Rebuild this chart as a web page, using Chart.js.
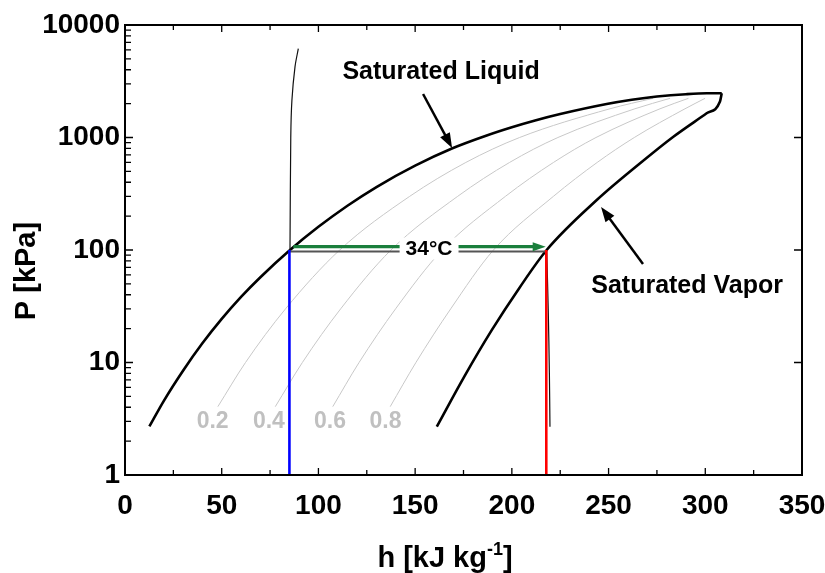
<!DOCTYPE html>
<html>
<head>
<meta charset="utf-8">
<script src="https://cdn.jsdelivr.net/npm/chart.js@4.4.0/dist/chart.umd.min.js"></script>
<style>
  html, body { margin: 0; padding: 0; background: #fff; }
  #wrap { width: 825px; height: 573px; }
</style>
</head>
<body>
<div id="wrap"><canvas id="phChart" width="825" height="573"></canvas></div>
<script>
// ---- DATA ----
const xTicks = [0, 50, 100, 150, 200, 250, 300, 350];
const yTicks = [1, 10, 100, 1000, 10000];

// saturated liquid / vapor dome, h [kJ/kg] vs P [kPa]
const liquidH = [12.6, 20, 30, 40, 50, 60, 70, 85.3, 100, 115, 130, 150, 169, 187, 200, 212, 225, 249, 262, 275, 290, 300.8, 308.5];
const liquidP = [2.7, 4.54, 8.45, 14.8, 24.4, 38.3, 57.3, 100, 160.7, 247.5, 363, 562, 798, 1042, 1233, 1416, 1615, 1982, 2163, 2312, 2427, 2472, 2472];
const vaporH  = [161.2, 175.4, 189.6, 203.8, 218, 243.9, 266.3, 283.5, 300.7, 307.6, 308.5];
const vaporP  = [2.69, 7.5, 19.4, 45.8, 100, 278, 590, 1016, 1641, 2086, 2472];

// constant quality lines
const qualityP = [4.05, 10, 30, 100, 300, 600, 1000, 1800, 2230];
const q02H = [48, 62.3, 83, 111, 147.2, 176.2, 204, 250.7, 273];
const q04H = [77.7, 91.7, 111.5, 137.5, 172, 198.8, 223.8, 263.6, 281.8];
const q06H = [107.4, 121, 139.9, 164, 196.7, 221.5, 243.5, 276.6, 291.3];
const q08H = [137.1, 150.4, 168.4, 190.5, 221.5, 244.1, 263.3, 289.5, 299.9];
const qualityLabels = ['0.2', '0.4', '0.6', '0.8'];
const qualityLabelH = [45.3, 74.4, 106, 134.7];
const qualityLabelP = 2.98;

// 34°C isotherm pieces
const liqIsoH = [85.3, 85.7, 86.3, 87.9, 89.6];
const liqIsoP = [100, 1000, 2154, 4266, 6170];
const vapIsoH = [218, 218.8, 219.4, 219.7];
const vapIsoP = [100, 30, 8, 2.69];
const isoLineH = [85.3, 218];
const isoLineP = [97, 97];

// marked states
const blueH = [85, 85];
const blueP = [1, 100];
const redH = [217.8, 217.8];
const redP = [1, 100];
const greenH = [87, 212];
const greenP = [107, 107];
const greenTipH = 217.5;

const FONT = '"Liberation Sans", Arial, Helvetica, sans-serif';

function series(hs, ps) {
  return hs.map((h, i) => ({ x: h, y: ps[i] }));
}

function lineSet(label, hs, ps, color, width, extra) {
  return Object.assign({
    label,
    data: series(hs, ps),
    borderColor: color,
    borderWidth: width,
    pointRadius: 0,
    fill: false,
    showLine: true,
    cubicInterpolationMode: 'monotone',
  }, extra || {});
}

// ---- annotations ----
const notes = {
  liquid: { text: 'Saturated Liquid', h: 163.4, p: 3822, from: [154.1, 2436], to: [169.1, 807] },
  vapor:  { text: 'Saturated Vapor',  h: 290.6, p: 47.9, from: [267.8, 75.1], to: [246.1, 241] },
  temp:   { text: '34°C', h: 157.2, p: 101 },
};

function arrowHead(ctx, x0, y0, x1, y1, len, half, color) {
  const a = Math.atan2(y1 - y0, x1 - x0);
  const c = Math.cos(a), s = Math.sin(a);
  ctx.fillStyle = color;
  ctx.beginPath();
  ctx.moveTo(x1, y1);
  ctx.lineTo(x1 - len * c + half * s, y1 - len * s - half * c);
  ctx.lineTo(x1 - len * c - half * s, y1 - len * s + half * c);
  ctx.closePath();
  ctx.fill();
}

const decorPlugin = {
  id: 'decor',
  afterDraw(chart) {
    const ctx = chart.ctx;
    const xs = chart.scales.x, ys = chart.scales.y;
    const { left, right, top, bottom } = chart.chartArea;
    const X = v => xs.getPixelForValue(v);
    const Y = v => ys.getPixelForValue(v);
    ctx.save();

    // green arrow head
    const gy = Y(greenP[0]);
    arrowHead(ctx, X(greenH[0]), gy, X(greenTipH), gy, 13, 4.5, '#1a7f3c');

    // label for the isotherm with white box
    ctx.font = 'bold 21px ' + FONT;
    const tw = ctx.measureText(notes.temp.text).width;
    const tx = X(notes.temp.h), ty = Y(notes.temp.p);
    ctx.fillStyle = '#fff';
    ctx.fillRect(tx - tw / 2 - 6, ty - 12, tw + 12, 22);
    ctx.fillStyle = '#000';
    ctx.textAlign = 'center';
    ctx.textBaseline = 'middle';
    ctx.fillText(notes.temp.text, tx, ty);

    // quality labels
    ctx.font = 'bold 23px ' + FONT;
    ctx.fillStyle = '#c0c0c0';
    qualityLabels.forEach((t, i) => ctx.fillText(t, X(qualityLabelH[i]), Y(qualityLabelP)));

    // saturated curve notes with arrows
    ctx.font = 'bold 25px ' + FONT;
    ctx.fillStyle = '#000';
    ctx.strokeStyle = '#000';
    ctx.lineWidth = 2.5;
    [notes.liquid, notes.vapor].forEach(n => {
      ctx.fillText(n.text, X(n.h), Y(n.p));
      const x0 = X(n.from[0]), y0 = Y(n.from[1]);
      const x1 = X(n.to[0]), y1 = Y(n.to[1]);
      const d = Math.hypot(x1 - x0, y1 - y0);
      ctx.beginPath();
      ctx.moveTo(x0, y0);
      ctx.lineTo(x1 - (x1 - x0) / d * 10, y1 - (y1 - y0) / d * 10);
      ctx.stroke();
      arrowHead(ctx, x0, y0, x1, y1, 15, 5.5, '#000');
    });

    // frame
    ctx.lineWidth = 2;
    ctx.strokeRect(left, top, right - left, bottom - top);

    // inward ticks
    ctx.lineWidth = 1.3;
    ctx.beginPath();
    for (let v = 0; v <= 350; v += 25) {
      const x = X(v), len = v % 50 === 0 ? 7 : 5;
      ctx.moveTo(x, bottom); ctx.lineTo(x, bottom - len);
      ctx.moveTo(x, top); ctx.lineTo(x, top + len);
    }
    for (let d = 1; d < 10000; d *= 10) {
      for (let m = 1; m < 10; m++) {
        const y = Y(d * m);
        ctx.moveTo(left, y); ctx.lineTo(left + (m === 1 ? 8 : 6), y);
        if (m === 1) { ctx.moveTo(right, y); ctx.lineTo(right - 8, y); }
      }
    }
    ctx.stroke();

    // axis titles
    ctx.fillStyle = '#000';
    ctx.font = 'bold 29px ' + FONT;
    ctx.save();
    ctx.translate(27, 271);
    ctx.rotate(-Math.PI / 2);
    ctx.textAlign = 'center';
    ctx.textBaseline = 'middle';
    ctx.fillText('P [kPa]', 0, 0);
    ctx.restore();

    const main = 'h [kJ kg', sup = '-1', tail = ']';
    ctx.textAlign = 'left';
    ctx.textBaseline = 'alphabetic';
    const wMain = ctx.measureText(main).width, wTail = ctx.measureText(tail).width;
    ctx.font = 'bold 18px ' + FONT;
    const wSup = ctx.measureText(sup).width;
    let x = 445 - (wMain + wSup + wTail) / 2;
    const base = 567;
    ctx.font = 'bold 29px ' + FONT;
    ctx.fillText(main, x, base); x += wMain;
    ctx.font = 'bold 18px ' + FONT;
    ctx.fillText(sup, x, base - 12); x += wSup;
    ctx.font = 'bold 29px ' + FONT;
    ctx.fillText(tail, x, base);

    ctx.restore();
  }
};

const tickFont = { family: FONT, size: 28, weight: 'bold' };
const straight = { tension: 0, cubicInterpolationMode: 'default' };

new Chart(document.getElementById('phChart'), {
  type: 'line',
  data: {
    datasets: [
      lineSet('34°C path', greenH, greenP, '#1a7f3c', 3.2, straight),
      lineSet('liquid state', blueH, blueP, '#0000ff', 2.6, straight),
      lineSet('vapor state', redH, redP, '#ff0000', 2.6, straight),
      lineSet('34°C', isoLineH, isoLineP, '#555', 1.8, straight),
      lineSet('34°C liquid', liqIsoH, liqIsoP, '#111', 1.2, { tension: 0.3, cubicInterpolationMode: 'default' }),
      lineSet('34°C vapor', vapIsoH, vapIsoP, '#111', 1.2, { tension: 0.3, cubicInterpolationMode: 'default' }),
      lineSet('Saturated Liquid', liquidH, liquidP, '#000', 2.6),
      lineSet('Saturated Vapor', vaporH, vaporP, '#000', 2.6),
      lineSet('x=0.2', q02H, qualityP, '#c8c8c8', 1),
      lineSet('x=0.4', q04H, qualityP, '#c8c8c8', 1),
      lineSet('x=0.6', q06H, qualityP, '#c8c8c8', 1),
      lineSet('x=0.8', q08H, qualityP, '#c8c8c8', 1),
    ]
  },
  options: {
    responsive: false,
    animation: false,
    devicePixelRatio: 1,
    layout: { padding: { top: 25, right: 23, left: 0, bottom: 0 } },
    plugins: { legend: { display: false }, tooltip: { enabled: false } },
    scales: {
      x: {
        type: 'linear', min: 0, max: 350,
        afterBuildTicks: s => { s.ticks = xTicks.map(v => ({ value: v })); },
        afterFit: s => { s.height = 98; s.paddingRight = 0; },
        grid: { display: false, drawTicks: false },
        border: { display: false },
        ticks: { font: tickFont, color: '#000', padding: 14, maxRotation: 0, autoSkip: false, callback: v => String(v) },
      },
      y: {
        type: 'logarithmic', min: 1, max: 10000,
        afterBuildTicks: s => { s.ticks = yTicks.map(v => ({ value: v })); },
        afterFit: s => { s.width = 125; },
        grid: { display: false, drawTicks: false },
        border: { display: false },
        ticks: { font: tickFont, color: '#000', padding: 5, autoSkip: false, callback: v => String(v) },
      }
    }
  },
  plugins: [decorPlugin]
});
</script>
</body>
</html>
